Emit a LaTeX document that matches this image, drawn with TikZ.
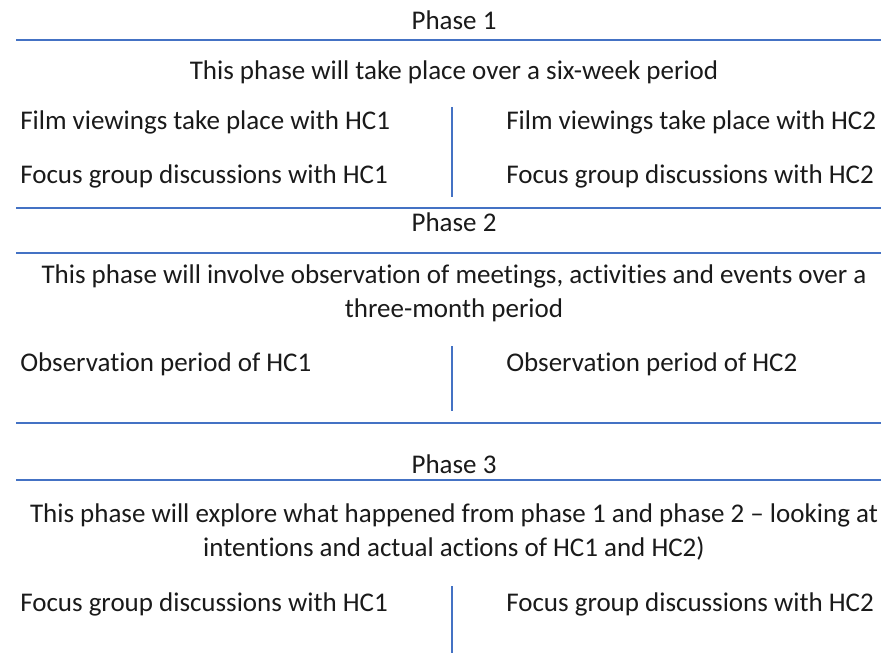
\documentclass[tikz,border=0pt]{standalone}
\usepackage{fontspec}
\setmainfont{Carlito}[Ligatures=NoCommon]
\definecolor{col_4472C4}{RGB}{68,114,196}
\definecolor{col_1A1A1A}{RGB}{26,26,26}
\tikzset{
  phasetxt/.style={font=\fontsize{19.2}{22}\selectfont, text=col_1A1A1A, inner sep=0pt},
  ruleline/.style={solid, col_4472C4, line width=1.1pt},
}
\begin{document}
\begin{tikzpicture}[x=0.025cm, y=-0.025cm]
\useasboundingbox (0,0) rectangle (881,657);
%% horizontal rules
\coordinate (r1l) at (16,40);  \coordinate (r1r) at (881,40);
\coordinate (r2l) at (16,208); \coordinate (r2r) at (881,208);
\coordinate (r3l) at (16,253); \coordinate (r3r) at (881,253);
\coordinate (r4l) at (16,423); \coordinate (r4r) at (881,423);
\coordinate (r5l) at (16,480); \coordinate (r5r) at (881,480);
\draw[ruleline] (r1l) -- (r1r); 
\draw[ruleline] (r2l) -- (r2r); 
\draw[ruleline] (r3l) -- (r3r); 
\draw[ruleline] (r4l) -- (r4r); 
\draw[ruleline] (r5l) -- (r5r); 
%% vertical dividers
\coordinate (v1t) at (452,107); \coordinate (v1b) at (452,197);
\coordinate (v2t) at (452,346); \coordinate (v2b) at (452,411);
\coordinate (v3t) at (452,586); \coordinate (v3b) at (452,653);
\draw[ruleline] (v1t) -- (v1b); 
\draw[ruleline] (v2t) -- (v2b); 
\draw[ruleline] (v3t) -- (v3b); 
%% phase 1
\node[phasetxt, anchor=base] (ph1) at (454,30) {Phase 1};
\node[phasetxt, anchor=base] (ph1desc) at (454,80) {This phase will take place over a six-week period};
\node[phasetxt, anchor=base west] (ph1filmA) at (20,130) {Film viewings take place with HC1};
\node[phasetxt, anchor=base west] (ph1filmB) at (506,130) {Film viewings take place with HC2};
\node[phasetxt, anchor=base west] (ph1focA) at (20,183) {Focus group discussions with HC1};
\node[phasetxt, anchor=base west] (ph1focB) at (506,183) {Focus group discussions with HC2};
%% phase 2
\node[phasetxt, anchor=base] (ph2) at (454,231) {Phase 2};
\node[phasetxt, anchor=base] (ph2descA) at (454,283) {This phase will involve observation of meetings, activities and events over a};
\node[phasetxt, anchor=base] (ph2descB) at (454,317) {three-month period};
\node[phasetxt, anchor=base west] (ph2obsA) at (20,371) {Observation period of HC1};
\node[phasetxt, anchor=base west] (ph2obsB) at (506,371) {Observation period of HC2};
%% phase 3
\node[phasetxt, anchor=base] (ph3) at (454,473) {Phase 3};
\node[phasetxt, anchor=base] (ph3descA) at (454,522) {This phase will explore what happened from phase 1 and phase 2 – looking at};
\node[phasetxt, anchor=base] (ph3descB) at (454,556) {intentions and actual actions of HC1 and HC2)};
\node[phasetxt, anchor=base west] (ph3focA) at (20,611) {Focus group discussions with HC1};
\node[phasetxt, anchor=base west] (ph3focB) at (506,611) {Focus group discussions with HC2};
\end{tikzpicture}
\end{document}
